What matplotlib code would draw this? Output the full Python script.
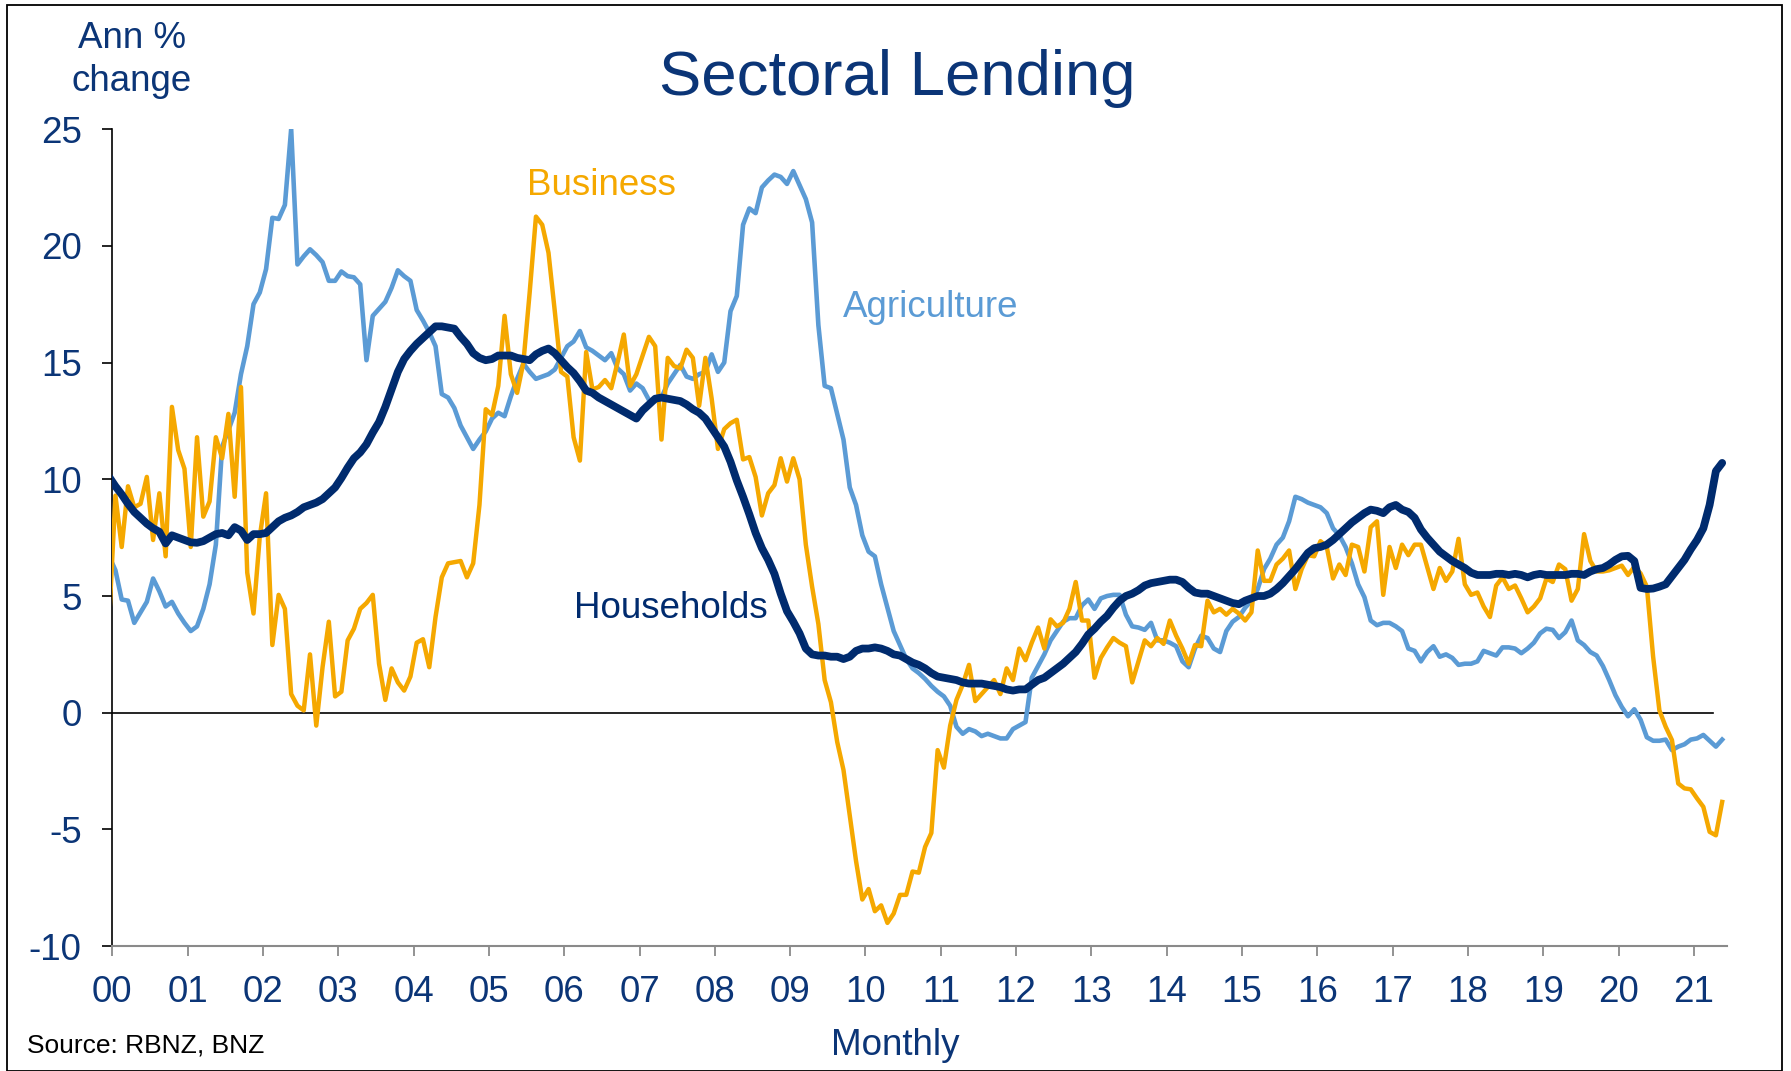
import numpy as np
import pandas as pd
import matplotlib
matplotlib.use("Agg")
import matplotlib.pyplot as plt
from matplotlib.patches import Rectangle

# monthly, Dec 1999 .. May 2021 (annual % change)
months = pd.date_range("1999-12-01", "2021-05-01", freq="MS")

households = [
    10.1,
    9.7, 9.35, 8.95, 8.6, 8.35, 8.1, 7.9, 7.75, 7.25, 7.6, 7.5, 7.4,
    7.3, 7.28, 7.35, 7.5, 7.65, 7.7, 7.6, 7.95, 7.8, 7.4, 7.65, 7.65,
    7.7, 7.95, 8.2, 8.35, 8.45, 8.6, 8.8, 8.9, 9.0, 9.15, 9.4, 9.65,
    10.05, 10.5, 10.9, 11.15, 11.5, 12.0, 12.45, 13.1, 13.85, 14.6, 15.15, 15.5,
    15.8, 16.05, 16.3, 16.55, 16.55, 16.5, 16.45, 16.1, 15.8, 15.4, 15.2, 15.1,
    15.15, 15.3, 15.3, 15.3, 15.2, 15.15, 15.1, 15.35, 15.5, 15.6, 15.4, 15.1,
    14.8, 14.55, 14.2, 13.8, 13.7, 13.5, 13.35, 13.2, 13.05, 12.9, 12.75, 12.6,
    12.95, 13.2, 13.45, 13.5, 13.45, 13.4, 13.35, 13.2, 13.0, 12.85, 12.6, 12.2,
    11.8, 11.4, 10.75, 9.95, 9.25, 8.5, 7.7, 7.05, 6.55, 5.95, 5.1, 4.35,
    3.9, 3.4, 2.75, 2.5, 2.45, 2.45, 2.4, 2.4, 2.3, 2.4, 2.65, 2.75,
    2.75, 2.8, 2.75, 2.65, 2.5, 2.45, 2.3, 2.15, 2.05, 1.9, 1.7, 1.55,
    1.5, 1.45, 1.4, 1.3, 1.25, 1.25, 1.25, 1.2, 1.15, 1.1, 1.0, 0.95,
    1.0, 1.0, 1.2, 1.4, 1.5, 1.7, 1.9, 2.1, 2.35, 2.6, 2.95, 3.35,
    3.6, 3.9, 4.15, 4.5, 4.8, 5.0, 5.1, 5.25, 5.45, 5.55, 5.6, 5.65,
    5.7, 5.7, 5.6, 5.35, 5.15, 5.1, 5.1, 5.0, 4.9, 4.8, 4.7, 4.65,
    4.8, 4.9, 5.0, 5.0, 5.1, 5.3, 5.55, 5.85, 6.15, 6.5, 6.85, 7.05,
    7.1, 7.2, 7.4, 7.65, 7.9, 8.15, 8.35, 8.55, 8.7, 8.65, 8.55, 8.8,
    8.9, 8.7, 8.6, 8.35, 7.85, 7.5, 7.2, 6.9, 6.7, 6.5, 6.35, 6.2,
    6.0, 5.9, 5.9, 5.9, 5.95, 5.95, 5.9, 5.95, 5.9, 5.8, 5.9, 5.95,
    5.9, 5.9, 5.9, 5.9, 5.95, 5.95, 5.9, 6.05, 6.15, 6.2, 6.35, 6.55,
    6.7, 6.72, 6.5, 5.35, 5.3, 5.32, 5.4, 5.5, 5.85, 6.2, 6.55, 7.0,
    7.4, 7.9, 8.9, 10.35, 10.7,
]

agriculture = [
    6.7,
    6.1, 4.85, 4.8, 3.85, 4.3, 4.75, 5.75, 5.2, 4.55, 4.75, 4.25, 3.85,
    3.5, 3.7, 4.45, 5.5, 7.2, 11.4, 12.1, 12.85, 14.5, 15.7, 17.5, 18.0,
    19.0, 21.2, 21.15, 21.75, 25.0, 19.2, 19.55, 19.85, 19.6, 19.3, 18.5, 18.5,
    18.9, 18.7, 18.65, 18.35, 15.1, 17.0, 17.3, 17.6, 18.2, 18.95, 18.7, 18.5,
    17.25, 16.8, 16.3, 15.7, 13.65, 13.5, 13.05, 12.3, 11.8, 11.3, 11.7, 12.05,
    12.6, 12.85, 12.7, 13.55, 14.3, 14.95, 14.6, 14.3, 14.4, 14.5, 14.7, 15.2,
    15.7, 15.9, 16.35, 15.65, 15.5, 15.3, 15.1, 15.4, 14.75, 14.5, 13.8, 14.1,
    13.9, 13.4, 13.35, 13.5, 14.1, 14.5, 14.9, 14.4, 14.3, 14.5, 14.6, 15.35,
    14.6, 15.0, 17.2, 17.85, 20.9, 21.6, 21.4, 22.5, 22.8, 23.05, 22.95, 22.65,
    23.2, 22.6, 22.0, 21.0, 16.6, 14.0, 13.9, 12.8, 11.7, 9.65, 8.9, 7.6,
    6.9, 6.7, 5.5, 4.5, 3.5, 2.9, 2.3, 1.9, 1.7, 1.45, 1.15, 0.9,
    0.7, 0.3, -0.6, -0.9, -0.7, -0.8, -1.0, -0.9, -1.0, -1.1, -1.1, -0.7,
    -0.55, -0.4, 1.5, 2.0, 2.5, 3.1, 3.5, 3.9, 4.05, 4.05, 4.6, 4.85,
    4.45, 4.9, 5.0, 5.05, 5.05, 4.2, 3.7, 3.65, 3.55, 3.85, 3.1, 3.1,
    3.0, 2.85, 2.2, 1.95, 2.75, 3.3, 3.2, 2.75, 2.6, 3.5, 3.9, 4.1,
    4.5, 4.8, 5.3, 6.15, 6.6, 7.2, 7.5, 8.2, 9.25, 9.15, 9.0, 8.9,
    8.8, 8.55, 7.9, 7.6, 7.1, 6.4, 5.5, 4.95, 3.95, 3.75, 3.85, 3.85,
    3.7, 3.5, 2.75, 2.65, 2.2, 2.6, 2.85, 2.4, 2.5, 2.35, 2.05, 2.1,
    2.1, 2.2, 2.65, 2.55, 2.45, 2.8, 2.8, 2.75, 2.55, 2.75, 3.0, 3.4,
    3.6, 3.55, 3.2, 3.45, 3.95, 3.1, 2.9, 2.6, 2.45, 2.0, 1.4, 0.75,
    0.25, -0.15, 0.15, -0.3, -1.05, -1.2, -1.2, -1.15, -1.6, -1.45, -1.35, -1.15,
    -1.1, -0.95, -1.2, -1.45, -1.15,
]

business = [
    4.0,
    9.3, 7.1, 9.7, 8.8, 8.95, 10.1, 7.4, 9.4, 6.7, 13.1, 11.25, 10.45,
    7.1, 11.8, 8.4, 9.05, 11.8, 10.9, 12.8, 9.25, 13.95, 6.0, 4.25, 7.55,
    9.4, 2.9, 5.05, 4.45, 0.8, 0.3, 0.1, 2.5, -0.55, 1.95, 3.9, 0.7,
    0.9, 3.1, 3.6, 4.45, 4.7, 5.05, 2.1, 0.55, 1.9, 1.3, 0.95, 1.55,
    3.0, 3.15, 1.95, 4.1, 5.8, 6.4, 6.45, 6.5, 5.8, 6.4, 8.9, 13.0,
    12.75, 14.0, 17.0, 14.5, 13.7, 15.0, 18.0, 21.25, 20.9, 19.7, 17.2, 14.6,
    14.4, 11.8, 10.8, 15.45, 13.85, 13.95, 14.25, 13.9, 15.0, 16.2, 14.0, 14.5,
    15.3, 16.1, 15.7, 11.7, 15.2, 14.85, 14.75, 15.55, 15.2, 13.15, 15.2, 13.45,
    11.3, 12.15, 12.4, 12.55, 10.85, 10.95, 10.1, 8.45, 9.4, 9.75, 10.9, 9.9,
    10.9, 10.0, 7.2, 5.4, 3.8, 1.4, 0.45, -1.25, -2.45, -4.4, -6.35, -8.0,
    -7.55, -8.5, -8.25, -9.0, -8.6, -7.8, -7.8, -6.8, -6.85, -5.75, -5.15, -1.6,
    -2.35, -0.55, 0.55, 1.2, 2.05, 0.5, 0.8, 1.1, 1.4, 0.8, 1.9, 1.4,
    2.75, 2.25, 3.0, 3.65, 2.75, 4.0, 3.7, 3.85, 4.45, 5.6, 3.95, 3.95,
    1.5, 2.35, 2.8, 3.2, 3.0, 2.85, 1.3, 2.2, 3.1, 2.85, 3.2, 2.95,
    3.95, 3.3, 2.75, 2.1, 2.9, 2.85, 4.8, 4.3, 4.45, 4.2, 4.45, 4.25,
    3.95, 4.3, 6.95, 5.65, 5.65, 6.35, 6.6, 6.95, 5.3, 6.15, 6.75, 6.7,
    7.35, 7.1, 5.75, 6.35, 5.9, 7.2, 7.1, 6.05, 7.95, 8.2, 5.05, 7.1,
    6.2, 7.2, 6.75, 7.2, 7.2, 6.25, 5.3, 6.2, 5.65, 6.05, 7.45, 5.5,
    5.05, 5.15, 4.55, 4.1, 5.45, 5.8, 5.3, 5.45, 4.9, 4.3, 4.55, 4.9,
    5.75, 5.6, 6.35, 6.15, 4.8, 5.3, 7.65, 6.5, 6.05, 6.05, 6.1, 6.2,
    6.3, 5.9, 6.25, 5.97, 5.4, 2.4, 0.1, -0.6, -1.17, -3.03, -3.24, -3.28,
    -3.67, -4.03, -5.1, -5.25, -3.82,
]

year_ticks = list(range(2000, 2022))
year_labels = ["%02d" % (y % 100) for y in year_ticks]
value_ticks = [-10, -5, 0, 5, 10, 15, 20, 25]

NAVY = "#002B6E"
TEXT = "#0B3577"
ORANGE = "#F5A800"
BLUE = "#5B9BD5"

plt.rcParams["font.family"] = ["Liberation Sans", "DejaVu Sans"]
plt.rcParams["axes.unicode_minus"] = False

# points sit mid-month
x = months.year + (months.month - 0.5) / 12

fig = plt.figure(figsize=(17.91, 10.71), dpi=100)
ax = fig.add_axes([0.0627, 0.1165, 0.9016, 0.763])

ax.axhline(0, xmax=0.991, color="black", lw=1.2, zorder=1)
ax.plot(x, agriculture, color=BLUE, lw=3.3, zorder=2)
ax.plot(x, business, color=ORANGE, lw=3.2, zorder=3)
ax.plot(x, households, color=NAVY, lw=5.6, zorder=4, solid_capstyle="round")

ax.set_xlim(2000, 2021.44)
ax.set_ylim(-10, 25)
ax.set_xticks(year_ticks)
ax.set_xticklabels(year_labels)
ax.set_yticks(value_ticks)

for side in ["top", "right"]:
    ax.spines[side].set_visible(False)
ax.spines["left"].set_color("black")
ax.spines["left"].set_linewidth(1.2)
ax.spines["bottom"].set_color("#8a8a8a")
ax.spines["bottom"].set_linewidth(1.5)

ax.tick_params(axis="x", direction="out", length=7, width=1.3, color="#8a8a8a",
               labelsize=26.5, labelcolor=TEXT, pad=14)
ax.tick_params(axis="y", direction="out", length=7, width=1.2, color="black",
               labelsize=26.5, labelcolor=TEXT, pad=15)

ax.text(2006.50, 22.6, "Business", color=ORANGE, fontsize=26.5, ha="center", va="center")
ax.text(2010.87, 17.35, "Agriculture", color=BLUE, fontsize=26.5, ha="center", va="center")
ax.text(2007.41, 4.45, "Households", color=NAVY, fontsize=26.5, ha="center", va="center")

fig.text(0.501, 0.927, "Sectoral Lending", fontsize=45.7, color=TEXT, ha="center", va="center")
fig.text(132 / 1791, 1 - 60 / 1071, "Ann %\nchange", fontsize=26.5, color=TEXT,
         ha="center", va="center", multialignment="center", linespacing=1.32)
fig.text(0.5, 0.024, "Monthly", fontsize=26.5, color=TEXT, ha="center", va="center")
fig.text(27.4 / 1791, 0.024, "Source: RBNZ, BNZ", fontsize=19, color="black",
         ha="left", va="center")

fig.patches.append(Rectangle((7.5 / 1791, 0.5 / 1071), (1782 - 7.5) / 1791, (1071 - 5.2) / 1071,
                             transform=fig.transFigure, fill=False, edgecolor="black", lw=1.3))

fig.savefig("out.png", dpi=100)
